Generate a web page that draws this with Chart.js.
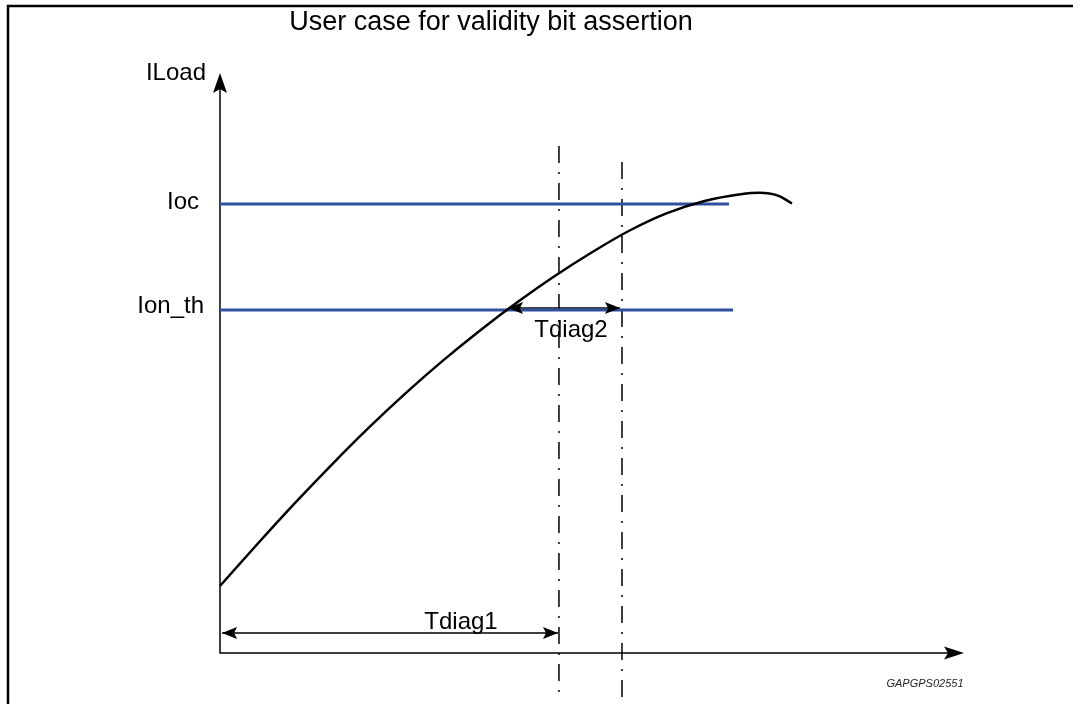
<!DOCTYPE html>
<html><head><meta charset="utf-8">
<script src="https://cdn.jsdelivr.net/npm/chart.js@4"></script>
<style>html,body{margin:0;padding:0;background:#fff}canvas{display:block}</style>
</head><body>
<canvas id="c" width="1082" height="704"></canvas>
<script>
// ---- data (arbitrary units: x = time, y = load current) ----
const curveX = [0, 5, 10, 15, 20, 25, 30, 35, 40, 45, 50, 55, 60, 65, 70, 72.5, 75, 76.88];
const curveY = [11.55, 18.75, 25.75, 32.45, 38.85, 44.85, 50.45, 55.65, 60.5, 65.0, 69.1, 72.8, 75.8, 77.9, 79.1, 79.35, 78.85, 77.5];
const levelNames = ['Ioc', 'Ion_th'];
const levelValues = [77.41, 59.14];
const levelEnds = [68.41, 68.95];
const markerX = [45.56, 54.03];          // diagnostic instants
const markerTop = [87.41, 84.66];
const markerBottom = -8.1;
const spanNames = ['Tdiag1', 'Tdiag2'];
const spanStart = [0.27, 38.71];
const spanEnd = [45.43, 53.76];
const spanLevel = [3.45, 59.48];
const titleText = 'User case for validity bit assertion';
const yAxisName = 'ILoad';
const figId = 'GAPGPS02551';

const FONT = '"Liberation Sans", Arial, Helvetica, sans-serif';
const BLUE = '#2f4f9f';

const datasets = [];
datasets.push({
  data: curveX.map((x, i) => ({x, y: curveY[i]})),
  borderColor: '#000', borderWidth: 2.5, cubicInterpolationMode: 'monotone'
});
levelValues.forEach((v, i) => datasets.push({
  data: [{x: 0, y: v}, {x: levelEnds[i], y: v}],
  borderColor: BLUE, borderWidth: 3
}));
markerX.forEach((x, i) => datasets.push({
  data: [{x, y: markerTop[i]}, {x, y: markerBottom}],
  borderColor: '#000', borderWidth: 1.5, borderDash: [17, 9, 2, 9]
}));
spanStart.forEach((s, i) => datasets.push({
  data: [{x: s, y: spanLevel[i]}, {x: spanEnd[i], y: spanLevel[i]}],
  borderColor: '#000', borderWidth: 1.5
}));
datasets.forEach(d => { d.showLine = true; d.pointRadius = 0; d.clip = false; d.fill = false; });

function arrowHead(ctx, tx, ty, dx, dy, len, hw) {
  const px = -dy, py = dx;
  const bx = tx - dx * len, by = ty - dy * len;
  const nx = tx - dx * len * 0.8, ny = ty - dy * len * 0.8;
  ctx.beginPath();
  ctx.moveTo(tx, ty);
  ctx.lineTo(bx + px * hw, by + py * hw);
  ctx.lineTo(nx, ny);
  ctx.lineTo(bx - px * hw, by - py * hw);
  ctx.closePath();
  ctx.fill();
}

const deco = {
  id: 'deco',
  beforeDraw(chart) {
    const ctx = chart.ctx;
    ctx.save();
    ctx.fillStyle = '#fff';
    ctx.fillRect(0, 0, chart.width, chart.height);
    // frame
    ctx.strokeStyle = '#000';
    ctx.lineWidth = 2.5;
    ctx.beginPath();
    ctx.moveTo(8, chart.height);
    ctx.lineTo(8, 6);
    ctx.lineTo(1073, 6);
    ctx.stroke();
    // axes
    const xs = chart.scales.x, ys = chart.scales.y;
    const x0 = xs.getPixelForValue(0), y0 = ys.getPixelForValue(0);
    const xTip = xs.getPixelForValue(xs.max), yTip = ys.getPixelForValue(ys.max);
    ctx.lineWidth = 1.5;
    ctx.beginPath();
    ctx.moveTo(x0, yTip + 10); ctx.lineTo(x0, y0);
    ctx.lineTo(xTip - 10, y0);
    ctx.stroke();
    ctx.fillStyle = '#000';
    arrowHead(ctx, x0, yTip, 0, -1, 20, 7);
    arrowHead(ctx, xTip, y0, 1, 0, 20, 6.5);
    ctx.restore();
  },
  afterDraw(chart) {
    const ctx = chart.ctx;
    const xs = chart.scales.x, ys = chart.scales.y;
    const x0 = xs.getPixelForValue(0);
    ctx.save();
    ctx.fillStyle = '#000';
    // span arrows heads
    spanStart.forEach((s, i) => {
      const y = ys.getPixelForValue(spanLevel[i]);
      arrowHead(ctx, xs.getPixelForValue(s), y, -1, 0, 15, 6);
      arrowHead(ctx, xs.getPixelForValue(spanEnd[i]), y, 1, 0, 15, 6);
    });
    // texts
    ctx.font = '24px ' + FONT;
    ctx.textBaseline = 'alphabetic';
    ctx.textAlign = 'right';
    ctx.fillText(yAxisName, x0 - 14, ys.getPixelForValue(ys.max) + 7);
    ctx.fillText(levelNames[0], x0 - 21, ys.getPixelForValue(levelValues[0]) + 5);
    ctx.fillText(levelNames[1], x0 - 16, ys.getPixelForValue(levelValues[1]) + 3);
    ctx.textAlign = 'center';
    ctx.fillText(spanNames[0], 461, ys.getPixelForValue(spanLevel[0]) - 4);
    ctx.fillText(spanNames[1], 571, ys.getPixelForValue(spanLevel[1]) + 29);
    ctx.font = '27px ' + FONT;
    ctx.fillText(titleText, 491, 30);
    ctx.font = 'italic 11px ' + FONT;
    ctx.fillStyle = '#222';
    ctx.fillText(figId, 925, 687);
    ctx.restore();
  }
};

new Chart(document.getElementById('c'), {
  type: 'scatter',
  data: { datasets },
  options: {
    responsive: false,
    animation: false,
    layout: { padding: { left: 220, right: 118, top: 73, bottom: 51 } },
    plugins: { legend: { display: false }, tooltip: { enabled: false }, title: { display: false } },
    scales: {
      x: { type: 'linear', min: 0, max: 100, display: false },
      y: { type: 'linear', min: 0, max: 100, display: false }
    }
  },
  plugins: [deco]
});
</script>
</body></html>
